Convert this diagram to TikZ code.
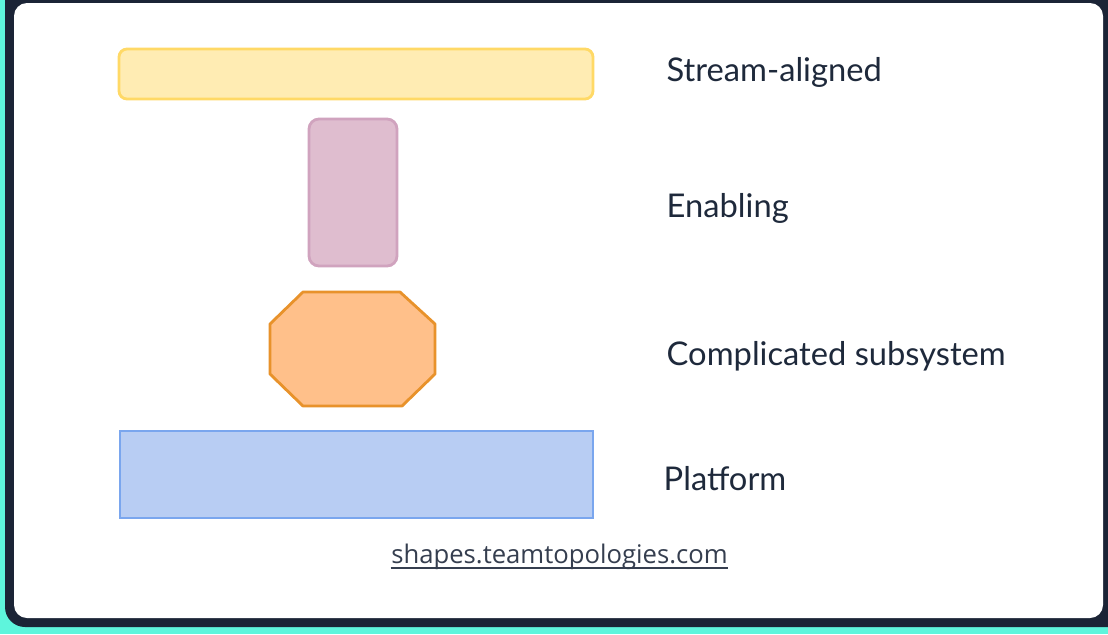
\documentclass[tikz,border=0pt]{standalone}
\usepackage{xcolor}
\usepackage{fontspec}
\usepackage{tikz}
\usetikzlibrary{shapes}
\setmainfont{Lato}
\newfontfamily\urlfont{Open Sans}
\definecolor{teal}{HTML}{5EF5DC}
\definecolor{frame}{HTML}{1B2436}
\definecolor{ink}{HTML}{1E293B}
\definecolor{streamfill}{HTML}{FFECB3}
\definecolor{streamline}{HTML}{FFD966}
\definecolor{enablefill}{HTML}{DFBDCF}
\definecolor{enableline}{HTML}{D0A3BE}
\definecolor{compfill}{HTML}{FFC08A}
\definecolor{compline}{HTML}{E8922B}
\definecolor{platfill}{HTML}{B8CDF3}
\definecolor{platline}{HTML}{7AA6EE}
\tikzstyle{every team node}=[draw,inner sep=0pt,line width=0.8pt]
\tikzstyle{label node}=[anchor=west,inner sep=0pt,text=ink,font=\fontsize{9.3}{11}\selectfont]

\begin{document}
\begin{tikzpicture}
\useasboundingbox (0,0) rectangle (11.08,6.34);
\clip (0,0) rectangle (11.08,6.34);
\fill[teal] (0,0) rectangle (11.08,6.34);
\fill[frame, rounded corners=0.2cm] (0.05,0.07) rectangle (11.4,6.6);
\fill[white, rounded corners=0.13cm] (0.14,0.16) rectangle (11.03,6.31);
\node[every team node, rounded corners=0.08cm, fill=streamfill, draw=streamline, minimum width=4.74cm, minimum height=0.5cm] (s) at (3.56,5.60) {};
\node[every team node, rounded corners=0.1cm, fill=enablefill, draw=enableline, minimum width=0.88cm, minimum height=1.47cm] (e) at (3.53,4.415) {};
% octagon of the complicated subsystem
\draw[fill=compfill, draw=compline, line width=0.8pt, line join=round] (3.03,3.42) -- (4.00,3.42) -- (4.35,3.10) -- (4.35,2.60) -- (4.02,2.28) -- (3.03,2.28) -- (2.70,2.60) -- (2.70,3.10) -- cycle;
\node[every team node, fill=platfill, draw=platline, minimum width=4.73cm, minimum height=0.87cm] (p) at (3.565,1.595) {};
\node[label node] (sl) at (6.66,5.62) {Stream-aligned};
\node[label node] (el) at (6.66,4.26) {Enabling};
\node[label node] (cl) at (6.66,2.78) {Complicated subsystem};
\node[label node] (pl) at (6.63,1.55) {Platform};
\node[text=ink!90, inner sep=0pt, font=\urlfont\fontsize{7.3}{9}\selectfont] (url) at (5.595,0.77) {shapes.teamtopologies.com};
\draw[ink!90, line width=0.5pt] ([yshift=-1.3pt]url.base west) -- ([yshift=-1.3pt]url.base east);
\end{tikzpicture}
\end{document}
